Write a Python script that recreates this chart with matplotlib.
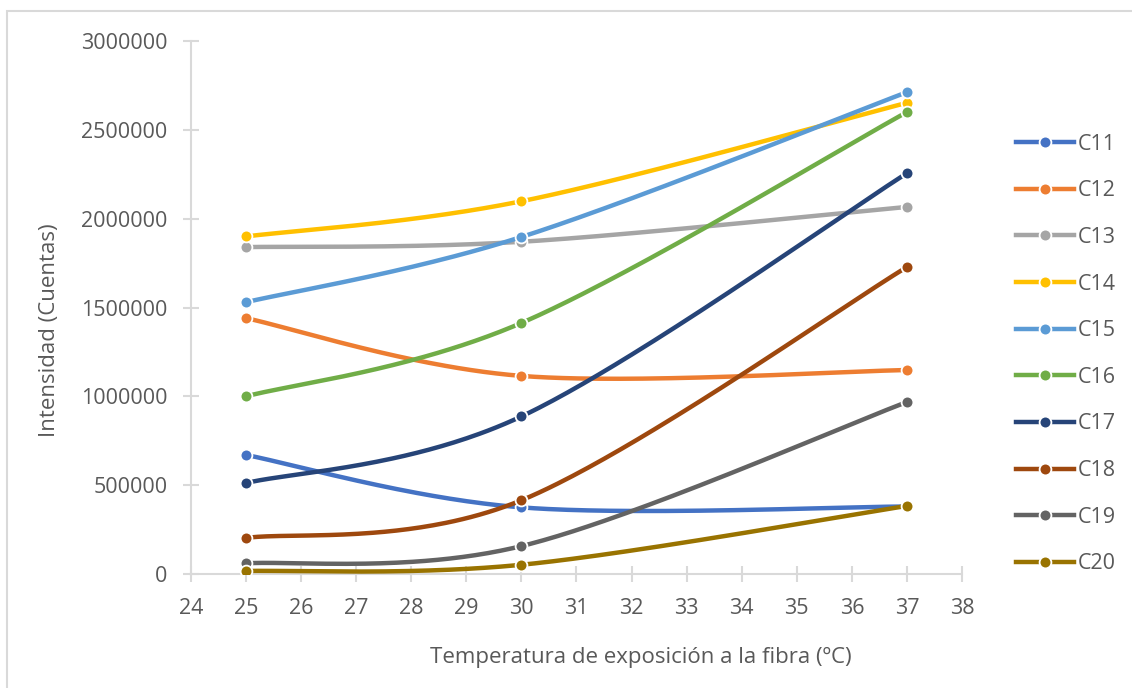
import numpy as np
import matplotlib
matplotlib.use("Agg")
import matplotlib.pyplot as plt
from matplotlib.lines import Line2D
from matplotlib.patches import Rectangle

plt.rcParams['font.family'] = ['Open Sans', 'DejaVu Sans']

# Exposure temperatures (°C)
temperatures = [25, 30, 37]

# Intensities (counts) per compound
series_names = ["C11", "C12", "C13", "C14", "C15", "C16", "C17", "C18", "C19", "C20"]
c11 = [670000, 375000, 380000]
c12 = [1440000, 1115000, 1148000]
c13 = [1840000, 1870000, 2066000]
c14 = [1900000, 2098000, 2652000]
c15 = [1530000, 1897000, 2712000]
c16 = [1000000, 1413000, 2600000]
c17 = [512000, 887000, 2256000]
c18 = [203000, 415000, 1728000]
c19 = [60000, 157000, 968000]
c20 = [17000, 52000, 383000]
series_values = [c11, c12, c13, c14, c15, c16, c17, c18, c19, c20]

colors = ["#4472C4", "#ED7D31", "#A5A5A5", "#FFC000", "#5B9BD5",
          "#70AD47", "#264478", "#9E480E", "#636363", "#997300"]

x_ticks = list(range(24, 39))
y_ticks = [0, 500000, 1000000, 1500000, 2000000, 2500000, 3000000]


def smooth_curve(xs, ys, n=80):
    """Cubic Bezier smoothing through the points (spreadsheet-style)."""
    P = np.column_stack([xs, ys]).astype(float)
    parts = []
    for i in range(len(P) - 1):
        p0 = P[i - 1] if i > 0 else P[i]
        p1, p2 = P[i], P[i + 1]
        p3 = P[i + 2] if i + 2 < len(P) else P[i + 1]
        c1 = p1 + (p2 - p0) / 6.0
        c2 = p2 - (p3 - p1) / 6.0
        t = np.linspace(0, 1, n)[:, None]
        seg = ((1 - t) ** 3) * p1 + 3 * ((1 - t) ** 2) * t * c1 \
            + 3 * (1 - t) * (t ** 2) * c2 + (t ** 3) * p2
        parts.append(seg if i == 0 else seg[1:])
    return np.vstack(parts)


W, H = 1132, 688
fig = plt.figure(figsize=(W / 100, H / 100), dpi=100)

# chart frame
fig.patches.append(Rectangle((7 / W, -0.05), 1.2, 1 - 11 / H + 0.05,
                             transform=fig.transFigure, fill=False,
                             edgecolor="#D9D9D9", linewidth=1.5))

ax = fig.add_axes([191 / W, 1 - 574 / H, (962 - 191) / W, (574 - 41) / H])

lw = 3.2
fs = 15.5
for k, (name, vals, col) in enumerate(zip(series_names, series_values, colors)):
    curve = smooth_curve(temperatures, vals)
    ax.plot(curve[:, 0], curve[:, 1], color=col, linewidth=lw,
            solid_capstyle="round", zorder=2 + 2 * k)
    ax.plot(temperatures, vals, linestyle="none", marker="o", markersize=8.5,
            markerfacecolor=col, markeredgecolor="white", markeredgewidth=1.3,
            zorder=3 + 2 * k)

ax.set_xlim(24, 38)
ax.set_ylim(0, 3000000)
ax.set_xticks(x_ticks)
ax.set_yticks(y_ticks)
ax.set_xticklabels([str(v) for v in x_ticks])
ax.set_yticklabels([str(v) for v in y_ticks])

for s in ["top", "right"]:
    ax.spines[s].set_visible(False)
for s in ["left", "bottom"]:
    ax.spines[s].set_color("#D9D9D9")
    ax.spines[s].set_linewidth(1.5)
ax.tick_params(axis="both", direction="inout", length=12, width=1.5,
               color="#D9D9D9", labelcolor="#595959", labelsize=fs)
ax.tick_params(axis="y", pad=11)
ax.tick_params(axis="x", pad=11)

# axis titles placed in figure coordinates
fig.text(641 / W, 1 - 657 / H, "Temperatura de exposición a la fibra (ºC)",
         color="#595959", fontsize=16, ha="center", va="center")
fig.text(49.5 / W, 1 - 330 / H, "Intensidad (Cuentas)", color="#595959",
         fontsize=16, ha="center", va="center", rotation=90)

handles = [Line2D([0], [0], color=c, linewidth=lw, marker="o", markersize=8.5,
                  markerfacecolor=c, markeredgecolor="white",
                  markeredgewidth=1.3)
           for c in colors]
leg = fig.legend(handles, series_names, loc="center left",
                 bbox_to_anchor=(997 / W, 1 - 354 / H), frameon=False,
                 fontsize=fs, handlelength=2.67, handletextpad=0.18,
                 labelspacing=1.19, labelcolor="#595959")

fig.savefig("out.png", dpi=100, facecolor="white")
